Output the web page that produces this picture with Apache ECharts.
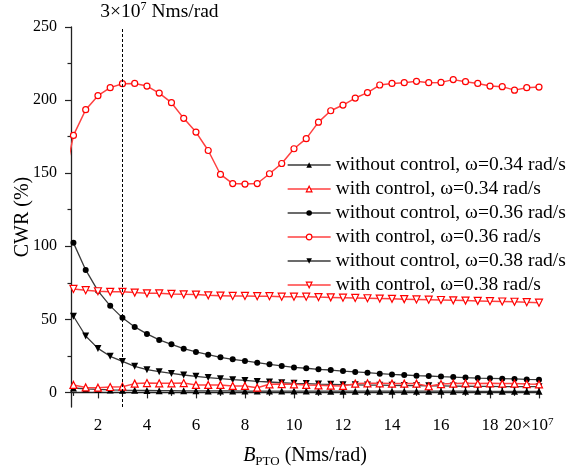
<!DOCTYPE html>
<html><head><meta charset="utf-8">
<script src="https://cdn.jsdelivr.net/npm/echarts@6/dist/echarts.min.js"></script>
<style>html,body{margin:0;padding:0;background:#fff}#c{width:566px;height:470px}</style>
</head><body><div id="c"></div>
<script>
// B_PTO values (x 10^7 Nms/rad)
const xValues = [1,1.5,2,2.5,3,3.5,4,4.5,5,5.5,6,6.5,7,7.5,8,8.5,9,9.5,10,10.5,11,11.5,12,12.5,13,13.5,14,14.5,15,15.5,16,16.5,17,17.5,18,18.5,19,19.5,20];

const cwrWithout034 = [3.0,2.4,2.0,1.7,1.5,1.4,1.3,1.2,1.2,1.1,1.1,1.0,1.0,1.0,0.9,0.9,0.9,0.9,0.9,0.9,0.8,0.8,0.8,0.8,0.8,0.8,0.8,0.8,0.8,0.8,0.8,0.8,0.8,0.7,0.7,0.7,0.7,0.7,0.7];
const cwrWith034 = [5.1,3.4,3.2,3.7,3.9,6.0,6.4,6.2,6.2,6.4,5.1,5.1,5.1,4.4,4.4,3.2,5.5,5.7,5.5,5.1,4.8,4.6,4.4,6.0,6.2,6.2,6.0,6.0,6.0,4.2,5.7,6.0,6.2,6.0,6.2,6.0,6.0,5.7,5.5];
const cwrWithout036 = [102.3,83.8,69.5,59.2,51.0,44.8,40.0,35.9,32.9,29.9,27.7,25.8,24.0,22.6,21.5,20.3,19.2,18.1,17.1,16.5,15.8,15.3,14.6,14.0,13.5,12.8,12.3,11.9,11.4,11.2,10.8,10.5,10.1,9.8,9.6,9.4,9.2,8.9,8.7];
const cwrWith036 = [175.8,193.4,203.0,208.5,211.2,211.4,209.6,204.8,198.2,187.5,178.1,165.5,149.1,142.9,142.5,142.9,149.6,156.6,166.7,173.6,184.9,192.7,196.6,201.4,205.1,210.3,211.4,211.9,212.8,211.9,212.1,214.0,212.6,211.4,209.6,209.2,206.8,208.5,208.9];
const cwrWithout038 = [52.1,38.6,30.1,24.7,21.2,17.8,15.5,14.2,13.0,11.9,11.0,10.1,9.4,8.7,8.2,7.5,7.1,6.6,6.2,6.0,5.7,5.5,5.3,5.2,5.0,4.9,4.8,4.7,4.6,4.5,4.4,4.3,4.2,4.1,4.1,4.0,4.0,3.9,3.9];
const cwrWith038 = [70.8,69.9,69.2,68.8,68.8,68.3,67.8,67.8,67.4,67.1,66.9,66.4,66.2,66.0,66.0,65.8,65.8,65.5,65.5,65.5,65.2,65.0,64.8,64.6,64.4,64.2,64.0,63.8,63.6,63.4,63.2,63.0,62.8,62.6,62.4,62.2,62.0,61.7,61.4];

// point just left of the axis start (clipped), with control, 0.36 rad/s
const leadInX = 0.5;
const leadInWith036 = 135;

const markX = 3;

const xTickMajor = [2,4,6,8,10,12,14,16,18,20];
const xTickMinor = [1,3,5,7,9,11,13,15,17,19];
const yTickMajor = [0,50,100,150,200,250];
const yTickMinor = [25,75,125,175,225];

const seriesNames = [
  'without control, ω=0.34 rad/s',
  'with control, ω=0.34 rad/s',
  'without control, ω=0.36 rad/s',
  'with control, ω=0.36 rad/s',
  'without control, ω=0.38 rad/s',
  'with control, ω=0.38 rad/s'
];

const FONT = 'Liberation Serif';
const pairs = ys => xValues.map((x, i) => [x, ys[i]]);

const blackLine = {color: '#3a3a3a', width: 1.3};
const blackItem = {color: '#000'};
const redLine = {color: '#ff4040', width: 1.5};
const redItem = {color: '#fff', borderColor: '#ff0000', borderWidth: 1.2};

function mk(name, data, isRed, symbol, size, rotate) {
  return {
    name: name, type: 'line', data: data,
    symbol: symbol, symbolSize: size, symbolRotate: rotate || 0,
    lineStyle: isRed ? redLine : blackLine,
    itemStyle: isRed ? redItem : blackItem,
    emphasis: {disabled: true},
    clip: true, z: isRed ? 3 : 2
  };
}

const s036with = mk(seriesNames[3], [[leadInX, leadInWith036]].concat(pairs(cwrWith036)), true, 'circle', 6);
s036with.markLine = {
  silent: true, symbol: 'none', animation: false,
  lineStyle: {color: '#000', type: [3, 2], width: 1},
  label: {
    show: true, position: 'end', distance: 4, offset: [37, 0],
    formatter: '{n|3×10}{s|7}{n| Nms/rad}',
    rich: {
      n: {fontFamily: FONT, fontSize: 19.5, color: '#000', lineHeight: 22},
      s: {fontFamily: FONT, fontSize: 12, color: '#000', lineHeight: 12, verticalAlign: 'top'}
    }
  },
  data: [{xAxis: markX}]
};

const chart = echarts.init(document.getElementById('c'), null, {renderer: 'canvas'});
chart.setOption({
  animation: false,
  backgroundColor: '#fff',
  grid: {left: 71, right: 27, top: 27, bottom: 63, containLabel: false, outerBoundsMode: 'none'},
  legend: {
    orient: 'vertical', left: 282, top: 150,
    itemWidth: 43, itemHeight: 7, itemGap: 4,
    itemStyle: {borderWidth: 1.2},
    lineStyle: {width: 1.3},
    textStyle: {fontFamily: FONT, fontSize: 19.5, color: '#000', lineHeight: 20},
    data: seriesNames
  },
  xAxis: [{
    type: 'value', min: 0.9, max: 20,
    axisLine: {show: true, lineStyle: {color: '#222', width: 1.3}},
    axisTick: {show: true, inside: false, length: 6, customValues: xTickMajor, lineStyle: {color: '#222', width: 1.2}},
    axisLabel: {
      show: true, margin: 10, customValues: xTickMajor,
      formatter: v => v === 20 ? '{p|20×10}{s|7}' : '{n|' + v + '}',
      rich: {
        n: {fontFamily: FONT, fontSize: 17, color: '#000', lineHeight: 18},
        p: {fontFamily: FONT, fontSize: 17, color: '#000', lineHeight: 18},
        s: {fontFamily: FONT, fontSize: 11, color: '#000', lineHeight: 10, verticalAlign: 'top', padding: [0, 20, 0, 0]}
      }
    },
    splitLine: {show: false},
    name: '{i|B}{sub|PTO}{n| (Nms/rad)}',
    nameLocation: 'middle', nameGap: 37, nameMoveOverlap: false,
    nameTextStyle: {
      rich: {
        i: {fontFamily: FONT, fontSize: 20, fontStyle: 'italic', color: '#000', lineHeight: 24},
        sub: {fontFamily: FONT, fontSize: 13, color: '#000', lineHeight: 14, verticalAlign: 'bottom'},
        n: {fontFamily: FONT, fontSize: 20, color: '#000', lineHeight: 24}
      }
    }
  }, {
    type: 'value', min: 0.9, max: 20, position: 'bottom', offset: 0,
    axisLine: {show: false},
    axisTick: {show: true, inside: false, length: 3.5, customValues: xTickMinor, lineStyle: {color: '#222', width: 1.2}},
    axisLabel: {show: false},
    splitLine: {show: false}
  }],
  yAxis: [{
    type: 'value', min: -10, max: 250,
    axisLine: {show: true, lineStyle: {color: '#222', width: 1.3}},
    axisTick: {show: true, inside: false, length: 6, customValues: yTickMajor, lineStyle: {color: '#222', width: 1.2}},
    axisLabel: {show: true, margin: 14, customValues: yTickMajor, fontFamily: FONT, fontSize: 16, color: '#000'},
    splitLine: {show: false},
    name: 'CWR (%)', nameLocation: 'middle', nameGap: 38, nameRotate: 90, nameMoveOverlap: false,
    nameTextStyle: {fontFamily: FONT, fontSize: 20, color: '#000'}
  }, {
    type: 'value', min: -10, max: 250, position: 'left', offset: 0,
    axisLine: {show: false},
    axisTick: {show: true, inside: false, length: 3.5, customValues: yTickMinor, lineStyle: {color: '#222', width: 1.2}},
    axisLabel: {show: false},
    splitLine: {show: false}
  }],
  series: [
    mk(seriesNames[0], pairs(cwrWithout034), false, 'triangle', 7),
    mk(seriesNames[1], pairs(cwrWith034), true, 'triangle', 7),
    mk(seriesNames[2], pairs(cwrWithout036), false, 'circle', 6),
    s036with,
    mk(seriesNames[4], pairs(cwrWithout038), false, 'triangle', 7, 180),
    mk(seriesNames[5], pairs(cwrWith038), true, 'triangle', 7, 180)
  ]
});
</script></body></html>
